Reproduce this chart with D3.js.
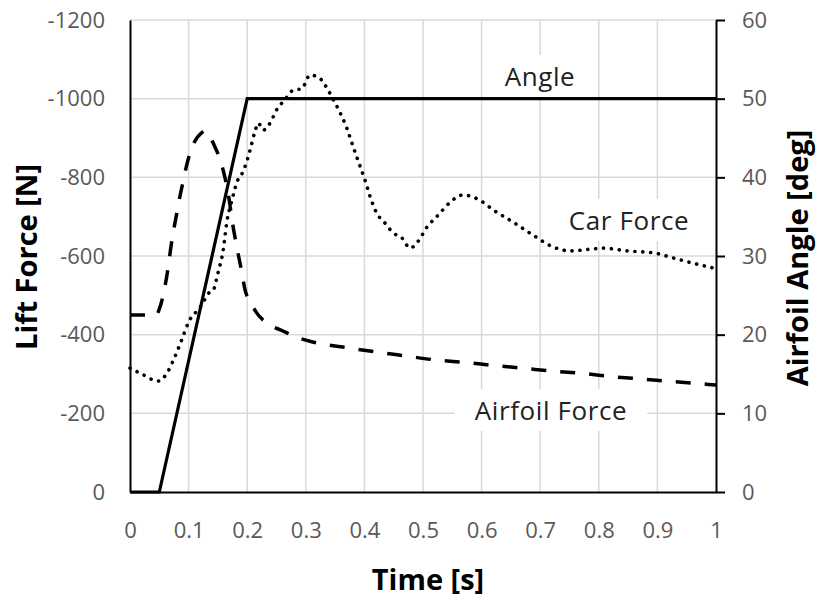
<!DOCTYPE html>
<html>
<head>
<meta charset="utf-8">
<script src="https://cdn.jsdelivr.net/npm/d3@7/dist/d3.min.js"></script>
<style>
  html, body { margin: 0; padding: 0; background: #fff; }
  svg { display: block; }
</style>
</head>
<body>
<svg id="chart" width="817" height="599"></svg>
<script>
// Time ticks and axis ranges
const timeTicks = [0, 0.1, 0.2, 0.3, 0.4, 0.5, 0.6, 0.7, 0.8, 0.9, 1];
const timeTickLabels = ["0", "0.1", "0.2", "0.3", "0.4", "0.5", "0.6", "0.7", "0.8", "0.9", "1"];
const forceTicks = [0, -200, -400, -600, -800, -1000, -1200];
const forceTickLabels = ["0", "-200", "-400", "-600", "-800", "-1000", "-1200"];
const angleTicks = [0, 10, 20, 30, 40, 50, 60];

// Airfoil pitch angle [deg]
const angleTime = [0, 0.05, 0.2, 1];
const angleValue = [0, 0, 50, 50];

// Lift force on the airfoil [N]
const airfoilTime = [0, 0.045, 0.05, 0.055, 0.06, 0.065, 0.07, 0.075, 0.08, 0.085, 0.09, 0.095, 0.1,
  0.11, 0.12, 0.128, 0.135, 0.142, 0.15, 0.16, 0.168, 0.175, 0.182, 0.19, 0.197, 0.205, 0.215,
  0.235, 0.26, 0.28, 0.31, 0.37, 0.42, 0.47, 0.52, 0.575, 0.625, 0.675, 0.725, 0.775, 0.825,
  0.875, 0.925, 0.975, 1];
const airfoilForce = [-450, -450, -465, -490, -525, -570, -625, -670, -710, -750, -785, -820, -850,
  -890, -910, -918, -908, -887, -860, -812, -755, -683, -625, -565, -510, -485, -458,
  -428, -410, -396, -382, -367, -356, -346, -336, -329, -321, -314, -307, -301, -293,
  -287, -281, -275, -272];

// Lift force on the car [N]
const carTime = [0, 0.02, 0.048, 0.063, 0.074, 0.088, 0.1, 0.12, 0.136, 0.142, 0.15, 0.159, 0.165,
  0.174, 0.184, 0.19, 0.2, 0.205, 0.213, 0.219, 0.227, 0.239, 0.25, 0.264, 0.279, 0.293, 0.307,
  0.321, 0.338, 0.347, 0.358, 0.37, 0.381, 0.392, 0.401, 0.41, 0.421, 0.435, 0.449, 0.464, 0.478,
  0.491, 0.507, 0.526, 0.545, 0.568, 0.597, 0.62, 0.654, 0.688, 0.722, 0.751, 0.79, 0.808, 0.848,
  0.893, 0.927, 0.96, 1];
const carForce = [-315, -300, -282, -302, -335, -386, -432, -470, -508, -513, -556, -615, -684,
  -742, -793, -806, -844, -870, -915, -938, -920, -938, -971, -997, -1022, -1025, -1060,
  -1055, -1022, -997, -966, -925, -877, -831, -793, -750, -709, -684, -659, -646, -620,
  -636, -674, -704, -735, -755, -742, -717, -686, -653, -623, -613, -618, -620, -613,
  -608, -595, -582, -568];

const svg = d3.select("#chart");
const plotLeft = 130, plotRight = 716, plotTop = 20, plotBottom = 492;

const x = d3.scaleLinear().domain([0, 1]).range([plotLeft, plotRight]);
const yF = d3.scaleLinear().domain([0, -1200]).range([plotBottom, plotTop]);
const yA = d3.scaleLinear().domain([0, 60]).range([plotBottom, plotTop]);

const tickFont = "'Open Sans', 'Liberation Sans', sans-serif";

// Gridlines
const grid = svg.append("g").attr("stroke", "#d9d9d9").attr("stroke-width", 1.5);
grid.selectAll("line.v").data(timeTicks.slice(1, -1)).join("line")
  .attr("class", "v")
  .attr("x1", d => x(d)).attr("x2", d => x(d))
  .attr("y1", plotTop).attr("y2", plotBottom);
grid.selectAll("line.h").data(forceTicks.slice(1)).join("line")
  .attr("class", "h")
  .attr("x1", plotLeft).attr("x2", plotRight)
  .attr("y1", d => yF(d)).attr("y2", d => yF(d));

// Series labels with white boxes
const labels = [
  { text: "Angle", cx: 540, base: 86 },
  { text: "Car Force", cx: 629, base: 230 },
  { text: "Airfoil Force", cx: 551, base: 420 }
];
const labelG = svg.append("g");
labels.forEach(l => {
  const g = labelG.append("g");
  const rect = g.append("rect").attr("fill", "#fff");
  const t = g.append("text")
    .attr("x", l.cx).attr("y", l.base)
    .attr("text-anchor", "middle")
    .attr("font-family", tickFont)
    .attr("font-size", 26)
    .attr("letter-spacing", 0.6)
    .attr("fill", "#222")
    .text(l.text);
  const bb = t.node().getBBox();
  rect.attr("x", bb.x - 20).attr("y", bb.y - 3)
    .attr("width", bb.width + 40).attr("height", bb.height + 6);
});

// Axes
const axisLeft = d3.axisLeft(yF).tickValues(forceTicks)
  .tickFormat((d, i) => forceTickLabels[i]).tickSize(0).tickPadding(25);
const axisBottom = d3.axisBottom(x).tickValues(timeTicks)
  .tickFormat((d, i) => timeTickLabels[i]).tickSize(0).tickPadding(30);
const axisRight = d3.axisRight(yA).tickValues(angleTicks)
  .tickSize(9).tickSizeOuter(0).tickPadding(17);

function styleAxis(g) {
  g.select(".domain").attr("stroke", "#000").attr("stroke-width", 2);
  g.selectAll(".tick line").attr("stroke", "#000").attr("stroke-width", 2);
  g.selectAll(".tick text")
    .attr("font-family", tickFont)
    .attr("font-size", 22)
    .attr("fill", "#595959");
}

svg.append("g").attr("transform", `translate(${plotLeft},0)`).call(axisLeft).call(styleAxis);
svg.append("g").attr("transform", `translate(0,${plotBottom})`).call(axisBottom).call(styleAxis);
svg.append("g").attr("transform", `translate(${plotRight},0)`).call(axisRight).call(styleAxis);

// Series lines
const lineF = d3.line().x(d => x(d[0])).y(d => yF(d[1])).curve(d3.curveMonotoneX);
const lineA = d3.line().x(d => x(d[0])).y(d => yA(d[1]));

svg.append("path")
  .datum(airfoilTime.map((t, i) => [t, airfoilForce[i]]))
  .attr("d", lineF)
  .attr("fill", "none").attr("stroke", "#000")
  .attr("stroke-width", 3.5)
  .attr("stroke-dasharray", "15,14");

svg.append("path")
  .datum(carTime.map((t, i) => [t, carForce[i]]))
  .attr("d", lineF)
  .attr("fill", "none").attr("stroke", "#000")
  .attr("stroke-width", 3.6)
  .attr("stroke-linecap", "round")
  .attr("stroke-dasharray", "0.1,7.8");

svg.append("path")
  .datum(angleTime.map((t, i) => [t, angleValue[i]]))
  .attr("d", lineA)
  .attr("fill", "none").attr("stroke", "#000")
  .attr("stroke-width", 3.2);

// Axis titles
const titleFont = "'Open Sans', 'Liberation Sans', sans-serif";
svg.append("text")
  .attr("transform", "translate(37,257) rotate(-90)")
  .attr("text-anchor", "middle")
  .attr("font-family", titleFont).attr("font-weight", "bold").attr("font-size", 29)
  .attr("fill", "#000")
  .text("Lift Force [N]");
svg.append("text")
  .attr("transform", "translate(808,258) rotate(-90)")
  .attr("text-anchor", "middle")
  .attr("font-family", titleFont).attr("font-weight", "bold").attr("font-size", 29)
  .attr("fill", "#000")
  .text("Airfoil Angle [deg]");
svg.append("text")
  .attr("x", 428).attr("y", 590)
  .attr("text-anchor", "middle")
  .attr("font-family", titleFont).attr("font-weight", "bold").attr("font-size", 29)
  .attr("fill", "#000")
  .text("Time [s]");
</script>
</body>
</html>
